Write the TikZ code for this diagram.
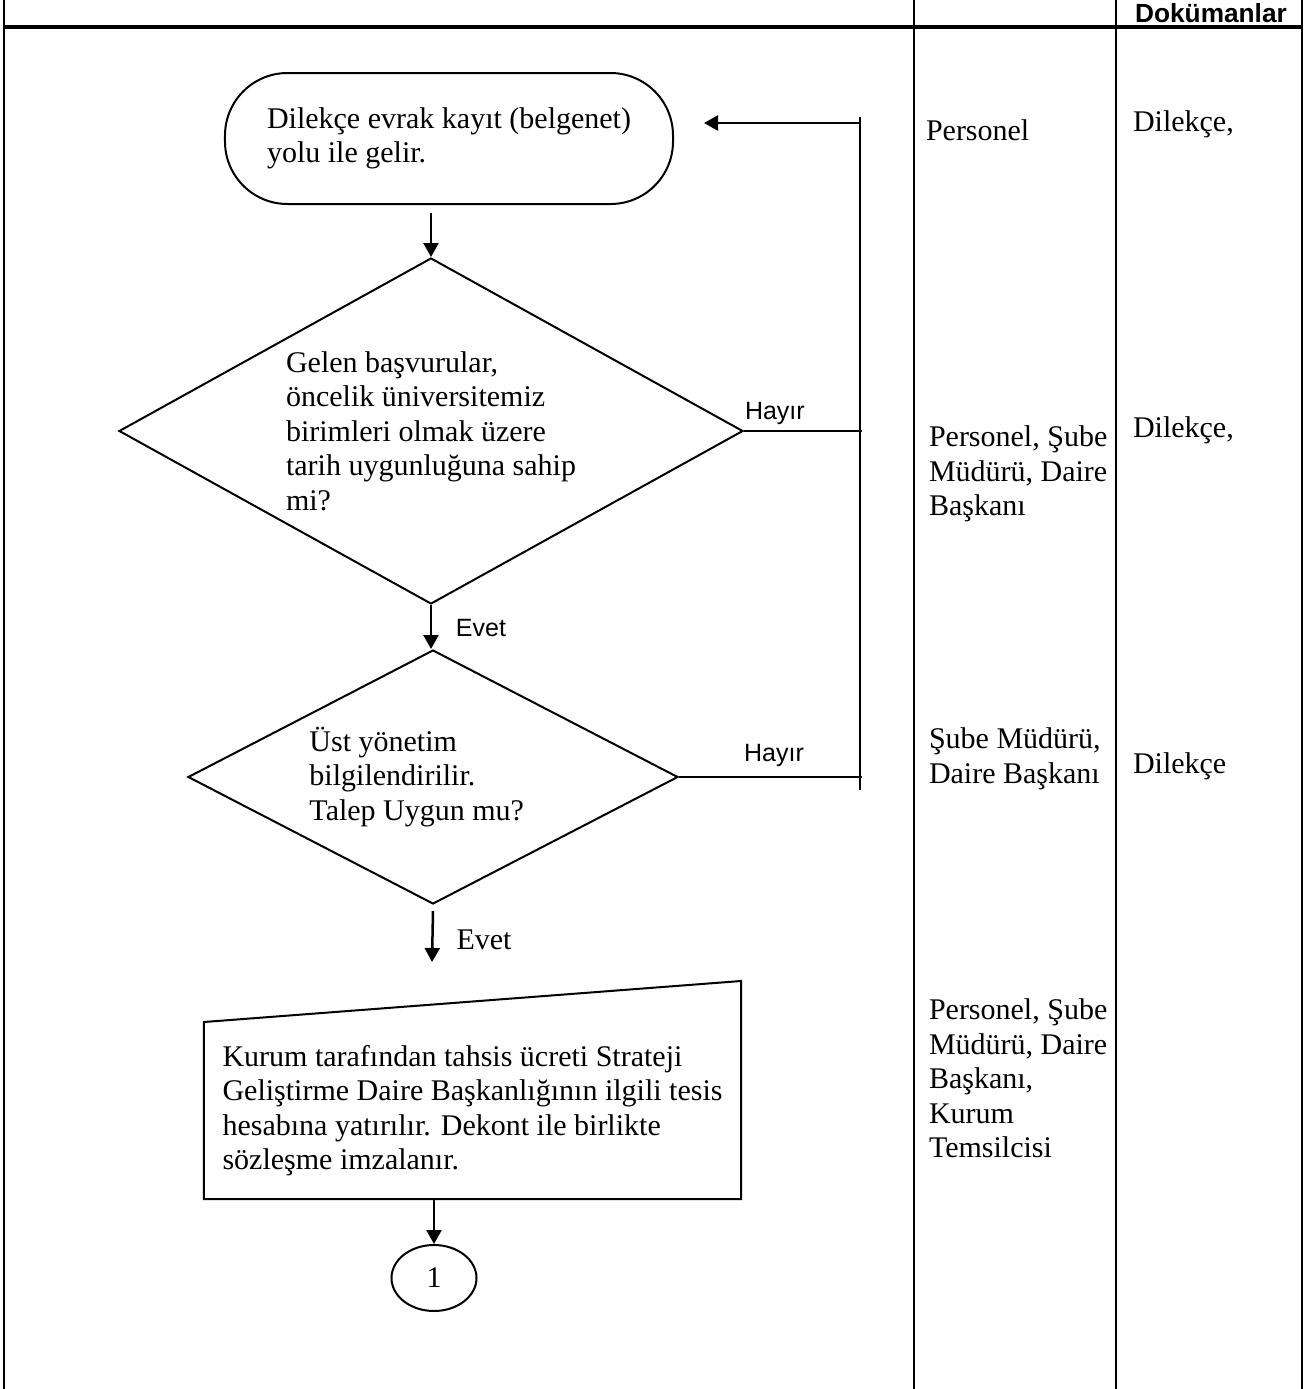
\documentclass[tikz,border=0pt]{standalone}
\usepackage{fontspec}
\setmainfont{Liberation Serif}
\newfontfamily\arialf{Liberation Sans}
\usetikzlibrary{calc, arrows.meta, shapes.geometric, positioning}

\begin{document}
\begin{tikzpicture}[x=0.4pt, y=-0.4pt, line width=0.8pt,
        every node/.style={font=\fontsize{12}{13.8}\selectfont},
        ok/.style={-{Triangle[length=5.6pt,width=6pt]}, line width=1pt},
        karar/.style={draw, diamond, inner sep=0pt, align=left},
        yazi/.style={inner sep=0pt, anchor=north west, align=left},
        etiket/.style={inner sep=0pt, font=\arialf\fontsize{10}{12}\selectfont}]
        \useasboundingbox (0,0) rectangle (1306,1389);
        %tablo
        \draw (4,0) -- (4,1389);
        \draw (914,0) -- (914,1389);
        \draw (1116,0) -- (1116,1389);
        \draw (1302,0) -- (1302,1389);
        \draw[line width=1.5pt] (4,27) -- (1302,27);
        \node[font=\arialf\bfseries\fontsize{10.5}{12}\selectfont] (baslik) at (1211,13) {Dokümanlar};
        
        %akış
        \node[draw, rounded corners=25pt, minimum width=179.2pt, minimum height=52.4pt, align=left] (basla) at (449,138.5) {Dilekçe evrak kayıt (belgenet)\\yolu ile gelir.};
        \node[karar, shape aspect=1.8, minimum width=249.6pt, minimum height=138.4pt] (karar1) at (431,431) {Gelen başvurular,\\öncelik üniversitemiz\\birimleri olmak üzere\\tarih uygunluğuna sahip\\mi?};
        \node[karar, shape aspect=1.93, minimum width=196pt, minimum height=101.6pt] (karar2) at (433,777) {Üst yönetim\\bilgilendirilir.\\Talep Uygun mu?\hspace*{13pt}};
        \node[minimum width=214pt, minimum height=70pt, align=left] (kurum) at (472.5,1110.5) {Kurum tarafından tahsis ücreti Strateji\\Geliştirme Daire Başkanlığının ilgili tesis\\hesabına yatırılır. Dekont ile birlikte\\sözleşme imzalanır.};
        \draw (kurum.south west) -- (kurum.south east) -- ($(kurum.north east)+(0,-41)$) -- (kurum.north west) -- cycle;
        \node[draw, ellipse, minimum width=34pt, minimum height=26.4pt, inner sep=0pt] (bir) at (434,1278) {1};
        
        \draw[ok] ($(basla.south -| karar1.north)+(0,8)$) -- (karar1.north);
        \draw[ok] (karar1.south) -- (karar1.south |- karar2.north);
        \coordinate (ok3) at (432,962);
        \draw[ok] ($(karar2.south)+(0,6)$) -- (ok3);
        \draw[ok] (kurum.south -| bir.north) -- (bir.north);
        
        %hayır dönüşü
        \coordinate (donus) at (860,123);
        \coordinate (donusalt) at (860,790);
        \coordinate (donusuc) at (704,123);
        \draw (karar1.east) -- ($(karar1.east -| donus)+(2,0)$);
        \draw (karar2.east) -- ($(karar2.east -| donus)+(2,0)$);
        \draw (donusalt) -- ($(donus)+(0,-6)$);
        \draw[ok] (donus) -- (donusuc);
        
        \node[etiket, above right=2pt and 0pt of karar1.east] (hayir1) {Hayır};
        \node[etiket] (hayir2) at (774,755) {Hayır};
        \node[etiket] (evet1) at (481,628) {Evet};
        \node[inner sep=0pt] (evet2) at (484,940) {Evet};
        
        %sorumlular ve dokümanlar
        \node[yazi] (sor1) at (925,119) {Personel};
        \node[yazi] (dok1) at (1132,110) {Dilekçe,};
        \node[yazi] (sor2) at (928,425) {Personel, Şube\\Müdürü, Daire\\Başkanı};
        \node[yazi] (dok2) at (1132,416) {Dilekçe,};
        \node[yazi] (sor3) at (928,727) {Şube Müdürü,\\Daire Başkanı};
        \node[yazi] (dok3) at (1132,752) {Dilekçe};
        \node[yazi] (sor4) at (928,998) {Personel, Şube\\Müdürü, Daire\\Başkanı,\\Kurum\\Temsilcisi};
        \end{tikzpicture}
\end{document}
